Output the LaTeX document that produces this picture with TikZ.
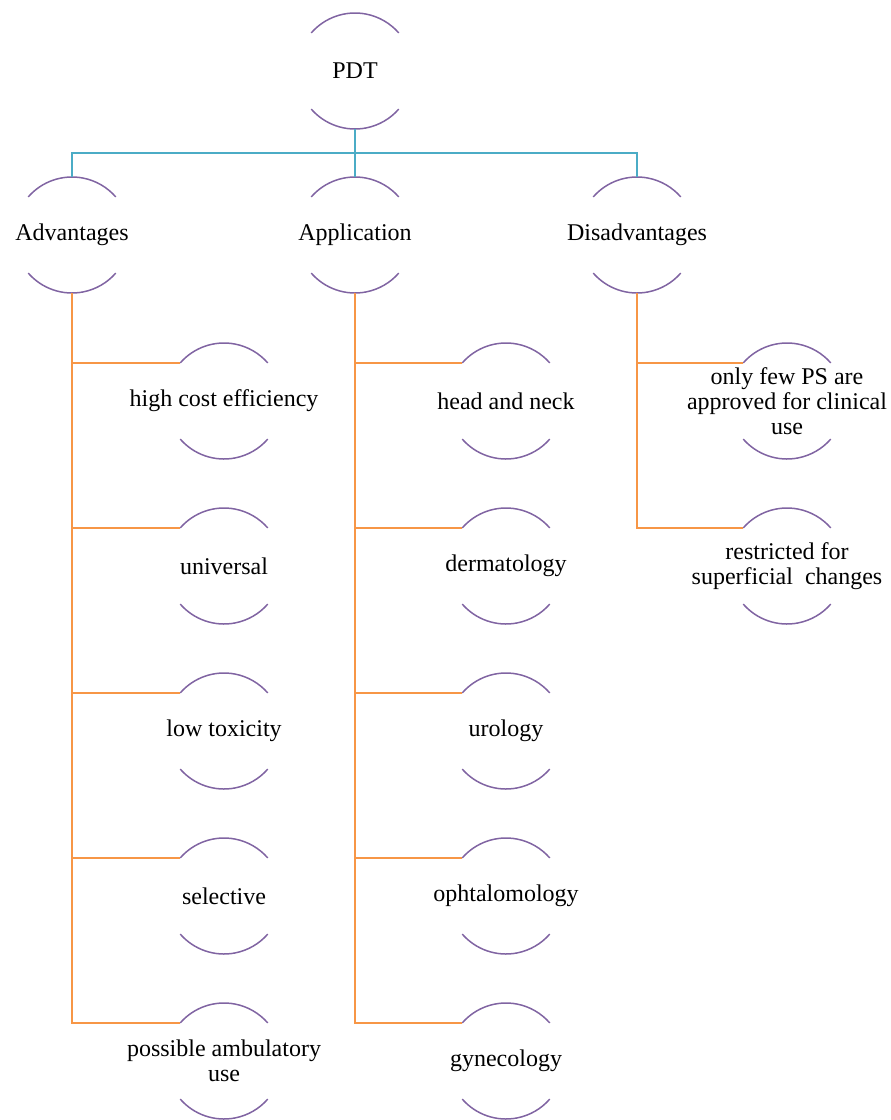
\documentclass[tikz,border=0pt]{standalone}
\usepackage{fontspec}
\setmainfont{Liberation Serif}
\usetikzlibrary{positioning}
\definecolor{arcpurple}{RGB}{128,100,162}
\definecolor{busblue}{RGB}{75,172,198}
\definecolor{branchorange}{RGB}{247,150,70}
\tikzstyle{bubble} = [rectangle, minimum width=116pt, minimum height=116pt,
    inner sep=0pt, align=center, font=\fontsize{24}{25}\selectfont]
\tikzstyle{arcline} = [draw=arcpurple, line width=1.5pt]
\tikzstyle{bus} = [draw=busblue, line width=1.5pt]
\tikzstyle{branch} = [draw=branchorange, line width=1.5pt]
\newcommand{\arcs}[1]{%
    \draw[arcline] ([shift={(139:58pt)}]#1.center) arc[start angle=139, end angle=41, radius=58pt];
    \draw[arcline] ([shift={(221:58pt)}]#1.center) arc[start angle=221, end angle=319, radius=58pt];}

\begin{document}
\begin{tikzpicture}[x=1pt, y=1pt, node distance=165pt]
    \useasboundingbox (0,0) rectangle (891,-1120);
    \node [bubble] (pdt) at (355,-71) {PDT};
    \node [bubble] (adv) at (72,-235) {Advantages};
    \node [bubble] (app) at (355,-235) {Application};
    \node [bubble] (dis) at (637,-235) {Disadvantages};
    % advantages
    \node [bubble] (hce) at (224,-401) {high cost efficiency};
    \node [bubble, below of=hce] (uni) {universal};
    \node [bubble, below of=uni] (lowtox) {low toxicity};
    \node [bubble, below of=lowtox] (sel) {selective};
    \node [bubble, below of=sel] (amb) {possible ambulatory\\use};
    % application
    \node [bubble] (head) at (506,-401) {head and neck};
    \node [bubble, below of=head] (derm) {dermatology};
    \node [bubble, below of=derm] (uro) {urology};
    \node [bubble, below of=uro] (ophth) {ophtalomology};
    \node [bubble, below of=ophth] (gyn) {gynecology};
    % disadvantages
    \node [bubble] (few) at (787,-401) {only few PS are\\approved for clinical\\use};
    \node [bubble, below of=few] (restr) {restricted for\\superficial\ \ changes};
    \foreach \n in {pdt,adv,app,dis,hce,uni,lowtox,sel,amb,head,derm,uro,ophth,gyn,few,restr}
        \arcs{\n}
    \foreach \n in {adv,app,dis}
        \draw[bus] (pdt.south) -- ++(0,-24pt) -| (\n.north);
    \foreach \c in {hce,uni,lowtox,sel,amb}
        \draw[branch] (adv.south) |- ([shift={(139:58pt)}]\c.center);
    \foreach \c in {head,derm,uro,ophth,gyn}
        \draw[branch] (app.south) |- ([shift={(139:58pt)}]\c.center);
    \foreach \c in {few,restr}
        \draw[branch] (dis.south) |- ([shift={(139:58pt)}]\c.center);
\end{tikzpicture}
\end{document}
